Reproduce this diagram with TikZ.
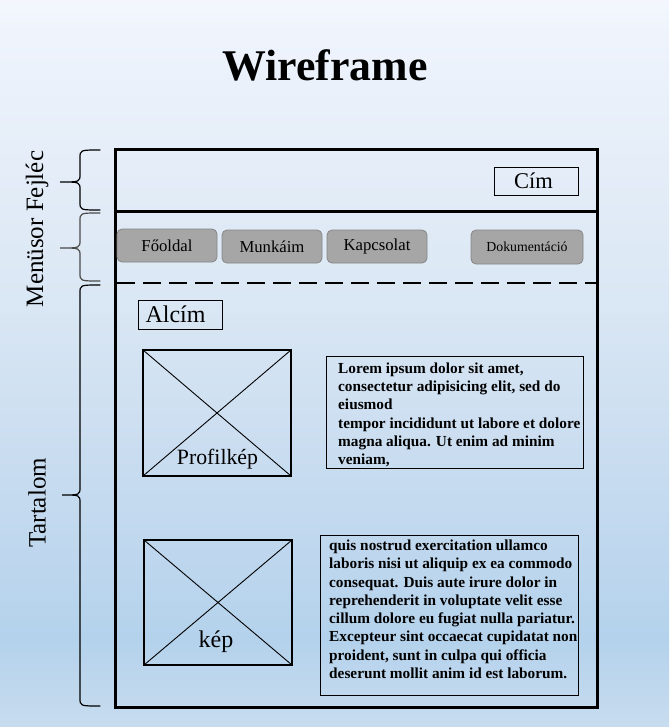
\documentclass[tikz,border=0pt]{standalone}
\usepackage{fontspec}
\setmainfont{Liberation Serif}
\usetikzlibrary{calc}

% page background: pale blue vertical gradient (stops run bottom to top)
\definecolor{bgA}{HTML}{F3F7FD}
\definecolor{bgB}{HTML}{EEF3FC}
\definecolor{bgC}{HTML}{DAE7F4}
\definecolor{bgD}{HTML}{CADDF0}
\definecolor{bgE}{HTML}{B4D2EC}
\definecolor{bgF}{HTML}{C8DCEE}
\definecolor{btnfill}{HTML}{A6A6A6}
\definecolor{btnline}{HTML}{858585}
\definecolor{bracegray}{HTML}{4A4A4A}
\pgfdeclareverticalshading{pagebg}{100bp}{%
  color(0bp)=(bgF); color(25bp)=(bgF); color(31bp)=(bgE); color(44bp)=(bgD);
  color(54.4bp)=(bgC); color(72.2bp)=(bgB); color(75bp)=(bgA); color(100bp)=(bgA)}

\tikzset{
  framebox/.style={draw=black, line width=3pt, minimum width=482pt, minimum height=557pt, inner sep=0pt, outer sep=0pt},
  labelbox/.style={draw=black, line width=0.8pt, inner sep=0pt, outer sep=0pt},
  labeltext/.style={inner sep=0pt, font=\fontsize{23.5}{27}\selectfont},
  menubtn/.style={draw=btnline, fill=btnfill, line width=0.8pt, rounded corners=5pt,
    minimum width=100pt, minimum height=33pt, inner sep=0pt, font=\fontsize{16.7}{20}\selectfont},
  picbox/.style={draw=black, line width=2.5pt, inner sep=0pt, outer sep=0pt},
  cross/.style={draw=black, line width=0.9pt},
  textbox/.style={draw=black, line width=0.8pt, inner sep=0pt, outer sep=0pt},
  bodytext/.style={anchor=north west, inner sep=0pt, align=left,
    font=\fontsize{15.3}{18.3}\selectfont\bfseries},
  sidelabel/.style={rotate=90, inner sep=0pt, font=\fontsize{25}{28}\selectfont},
  bracket/.style={line width=1.2pt, line cap=round}
}

\begin{document}
\begin{tikzpicture}[x=1pt, y=-1pt]
  % background
  \shade[shading=pagebg] (0,0) rectangle (669,727);
  \useasboundingbox (0,0) rectangle (669,727);

  % title
  \node[font=\fontsize{43.8}{50}\selectfont\bfseries] (title) at (325,65) {Wireframe};

  % page frame
  \node[framebox] (page) at (356,428.5) {};
  \coordinate (hdrL) at (115,212);
  \coordinate (hdrR) at (597,212);
  \draw[line width=3pt] (hdrL) -- (hdrR);
  \coordinate (menuL) at (117,283);
  \coordinate (menuR) at (597,283);
  \draw[line width=2.2pt, dash pattern=on 18pt off 8pt] (menuL) -- (menuR);

  % header
  \node[labelbox, minimum width=84pt, minimum height=28pt] (cim) at (536,181) {};
  \node[labeltext, font=\fontsize{22.5}{26}\selectfont] (cimtext) at (533.5,181) {Cím};

  % menu buttons
  \node[menubtn] (b1) at (167,245.5) {Főoldal};
  \node[menubtn] (b2) at (272,246.5) {Munkáim};
  \node[menubtn] (b3) at (377,246.5) {Kapcsolat};
  \node[menubtn, minimum width=112pt, minimum height=34pt, font=\fontsize{13.8}{16}\selectfont] (b4) at (527,247) {Dokumentáció};

  % content
  \node[labelbox, minimum width=84pt, minimum height=29pt] (alcim) at (180,314.5) {};
  \node[labeltext, font=\fontsize{24}{28}\selectfont] (alcimtext) at (175.5,314) {Alcím};

  \node[picbox, minimum width=148pt, minimum height=126pt] (pic1) at (217,413) {};
  \draw[cross] (pic1.north west) -- (pic1.south east);
  \draw[cross] (pic1.south west) -- (pic1.north east);
  \node[inner sep=0pt, font=\fontsize{21.8}{26}\selectfont] (pic1lbl) at (217.5,459) {Profilkép};

  \node[textbox, minimum width=257pt, minimum height=112pt] (txt1) at (454.5,412) {};
  \node[bodytext] (txt1body) at (338,362.5) {Lorem ipsum dolor sit amet,\\
    consectetur adipisicing elit, sed do\\
    eiusmod\\
    tempor incididunt ut labore et dolore\\
    magna aliqua. Ut enim ad minim\\
    veniam,};

  \node[picbox, minimum width=148pt, minimum height=125pt] (pic2) at (218,602.5) {};
  \draw[cross] (pic2.north west) -- (pic2.south east);
  \draw[cross] (pic2.south west) -- (pic2.north east);
  \node[inner sep=0pt, font=\fontsize{24}{28}\selectfont] (pic2lbl) at (216,642) {kép};

  \node[textbox, minimum width=258pt, minimum height=160pt] (txt2) at (449,615) {};
  \node[bodytext] (txt2body) at (329,539.6) {quis nostrud exercitation ullamco\\
    laboris nisi ut aliquip ex ea commodo\\
    consequat. Duis aute irure dolor in\\
    reprehenderit in voluptate velit esse\\
    cillum dolore eu fugiat nulla pariatur.\\
    Excepteur sint occaecat cupidatat non\\
    proident, sunt in culpa qui officia\\
    deserunt mollit anim id est laborum.};

  % side braces: tip x=100, spine x=80, point x=60
  \draw[bracket] (100,150) .. controls (80,150) .. (80,158) -- (80,174)
    .. controls (80,182) .. (60,182) .. controls (80,182) .. (80,190)
    -- (80,202) .. controls (80,210) .. (100,210);
  \draw[bracket, draw=bracegray] (100,213) .. controls (80,213) .. (80,221) -- (80,240)
    .. controls (80,248) .. (60,248) .. controls (80,248) .. (80,256)
    -- (80,273) .. controls (80,281) .. (100,281);
  \draw[bracket] (100,285) .. controls (80,285) .. (80,293) -- (80,487)
    .. controls (80,495) .. (62,495) .. controls (80,495) .. (80,503)
    -- (80,698) .. controls (80,706) .. (100,706);

  \node[sidelabel] (lblhead) at (37,229) {Menüsor Fejléc};
  \node[sidelabel] (lblbody) at (37,503) {Tartalom};
\end{tikzpicture}
\end{document}
